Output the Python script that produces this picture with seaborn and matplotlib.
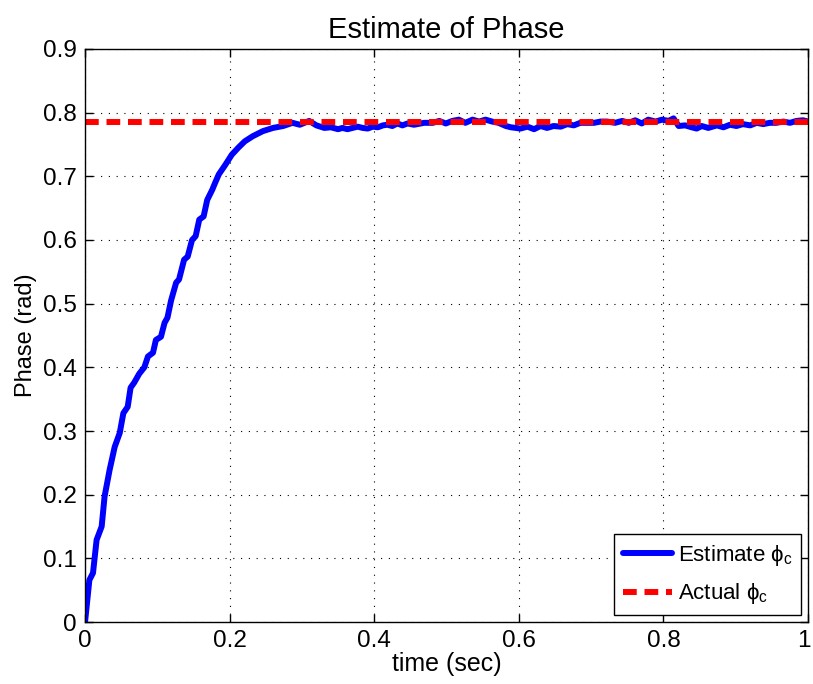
import seaborn as sns
import matplotlib.pyplot as plt
import matplotlib.ticker as mticker
import matplotlib.transforms as mtransforms

# estimated phase
time_est = [0.000, 0.006, 0.011, 0.016, 0.023, 0.027, 0.034, 0.041, 0.048, 0.053,
            0.059, 0.063, 0.068, 0.075, 0.082, 0.087, 0.094, 0.098, 0.105, 0.110,
            0.114, 0.119, 0.126, 0.130, 0.137, 0.142, 0.148, 0.153, 0.158, 0.164,
            0.169, 0.176, 0.180, 0.185, 0.194, 0.203, 0.212, 0.221, 0.232, 0.246,
            0.260, 0.274, 0.287, 0.297, 0.310, 0.320, 0.331, 0.340, 0.350, 0.356,
            0.363, 0.370, 0.377, 0.384, 0.391, 0.398, 0.405, 0.412, 0.418, 0.425,
            0.432, 0.439, 0.446, 0.455, 0.469, 0.481, 0.490, 0.499, 0.508, 0.517,
            0.526, 0.536, 0.545, 0.554, 0.563, 0.572, 0.582, 0.589, 0.596, 0.602,
            0.612, 0.621, 0.630, 0.639, 0.648, 0.658, 0.667, 0.676, 0.685, 0.694,
            0.704, 0.713, 0.722, 0.733, 0.743, 0.752, 0.761, 0.770, 0.779, 0.789,
            0.798, 0.807, 0.814, 0.821, 0.830, 0.839, 0.846, 0.853, 0.862, 0.874,
            0.883, 0.892, 0.901, 0.910, 0.920, 0.929, 0.938, 0.947, 0.956, 0.966,
            0.975, 0.984, 0.993, 1.000]
phase_est = [0.000, 0.066, 0.077, 0.129, 0.150, 0.197, 0.239, 0.275, 0.297, 0.328,
             0.338, 0.368, 0.376, 0.390, 0.400, 0.417, 0.423, 0.443, 0.448, 0.470,
             0.478, 0.505, 0.533, 0.538, 0.569, 0.574, 0.600, 0.606, 0.632, 0.637,
             0.663, 0.679, 0.690, 0.703, 0.718, 0.734, 0.745, 0.755, 0.763, 0.771,
             0.776, 0.779, 0.784, 0.781, 0.787, 0.780, 0.776, 0.777, 0.774, 0.776,
             0.774, 0.776, 0.778, 0.776, 0.775, 0.778, 0.777, 0.780, 0.781, 0.779,
             0.783, 0.780, 0.783, 0.781, 0.784, 0.784, 0.787, 0.783, 0.787, 0.789,
             0.784, 0.789, 0.786, 0.789, 0.786, 0.784, 0.779, 0.777, 0.776, 0.775,
             0.778, 0.774, 0.779, 0.776, 0.779, 0.778, 0.782, 0.780, 0.784, 0.784,
             0.784, 0.786, 0.786, 0.784, 0.787, 0.784, 0.788, 0.783, 0.789, 0.786,
             0.789, 0.787, 0.791, 0.779, 0.780, 0.777, 0.775, 0.779, 0.776, 0.780,
             0.777, 0.781, 0.779, 0.782, 0.780, 0.784, 0.782, 0.784, 0.784, 0.786,
             0.784, 0.787, 0.788, 0.786]

# actual phase (constant pi/4)
time_act = [0.0, 1.0]
phase_act = [0.7854, 0.7854]

x_ticks = [0, 0.2, 0.4, 0.6, 0.8, 1.0]
y_ticks = [0, 0.1, 0.2, 0.3, 0.4, 0.5, 0.6, 0.7, 0.8, 0.9]

sns.set_style("ticks")
plt.rcParams['font.family'] = ['Liberation Sans', 'DejaVu Sans']
plt.rcParams['mathtext.fontset'] = 'custom'
plt.rcParams['mathtext.rm'] = 'Liberation Sans'
for k in ['text.color', 'axes.labelcolor', 'xtick.color', 'ytick.color']:
    plt.rcParams[k] = 'black'

fig = plt.figure(figsize=(8.13, 6.84), dpi=100)
ax = fig.add_axes([0.1046, 0.0906, 0.8893, 0.8378])

sns.lineplot(x=time_est, y=phase_est, ax=ax, color='#0000ff', linewidth=4.3,
             label='Estimate \u03d5$_\\mathregular{c}$', sort=False,
             solid_capstyle='round', solid_joinstyle='round')
sns.lineplot(x=time_act, y=phase_act, ax=ax, color='#ff0000', linewidth=4.3,
             linestyle=(0, (2.3, 1.3)), label='Actual \u03d5$_\\mathregular{c}$')

ax.set_xlim(0, 1)
ax.set_ylim(0, 0.9)
ax.set_xticks(x_ticks)
ax.set_yticks(y_ticks)
fmt = mticker.FormatStrFormatter('%g')
ax.xaxis.set_major_formatter(fmt)
ax.yaxis.set_major_formatter(fmt)

# matlab style box + inward ticks + dotted grid
for s in ax.spines.values():
    s.set_visible(True)
    s.set_linewidth(1.0)
    s.set_color('black')
ax.tick_params(direction='in', length=6, width=1, top=True, right=True,
               labelsize=17.5, pad=6)
ax.grid(True, linestyle=(0, (1, 6)), color='black', linewidth=0.8)

# keep the last x label inside the figure
last = ax.xaxis.get_major_ticks()[-1].label1
last.set_transform(last.get_transform() +
                   mtransforms.ScaledTranslation(-4/100, 0, fig.dpi_scale_trans))

ax.set_title('Estimate of Phase', fontsize=21, pad=8)
ax.set_xlabel('time (sec)', fontsize=18, labelpad=0)
ax.set_ylabel('Phase (rad)', fontsize=17, labelpad=4)

leg = ax.legend(loc='lower right', fontsize=16, handlelength=2.2,
                handletextpad=0.25, fancybox=False, framealpha=1,
                edgecolor='black', borderaxespad=0.3, borderpad=0.4,
                labelspacing=0.6)
leg.get_frame().set_linewidth(1.0)

fig.savefig('out.png', dpi=100, facecolor='white')
